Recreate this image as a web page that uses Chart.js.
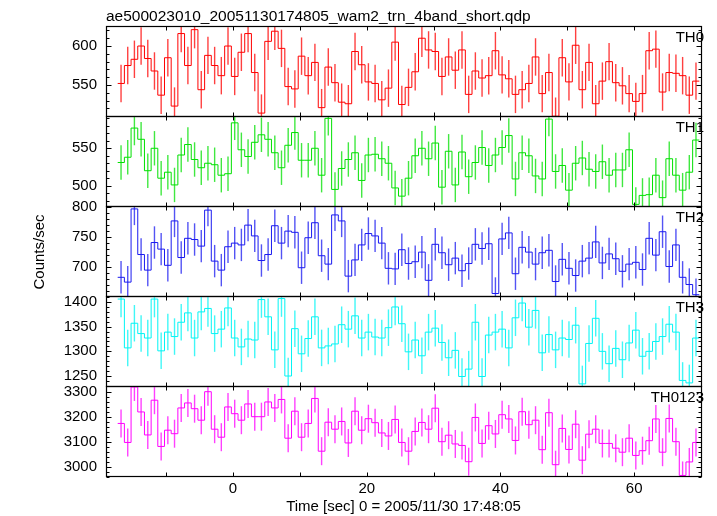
<!DOCTYPE html>
<html>
<head>
<meta charset="utf-8">
<title>ae500023010 wam2 trn 4band light curve</title>
<script src="https://cdn.jsdelivr.net/npm/chart.js@4.4.1/dist/chart.umd.min.js"></script>
<style>
  html, body { margin: 0; padding: 0; background: #fff; }
  #wrap { position: relative; width: 717px; height: 516px; }
  #wrap canvas { position: absolute; left: 0; top: 0; }
</style>
</head>
<body>
<div id="wrap">
  <canvas id="c0" width="717" height="516"></canvas>
  <canvas id="c1" width="717" height="516"></canvas>
  <canvas id="c2" width="717" height="516"></canvas>
  <canvas id="c3" width="717" height="516"></canvas>
  <canvas id="c4" width="717" height="516"></canvas>
</div>
<script>
// light curves, counts/sec, 1 s bins
const th0 = [552, 575, 583, 600, 584, 568, 537, 585, 523, 616, 575, 621, 544, 588, 575, 562, 600, 561, 592, 616,
             566, 514, 606, 619, 597, 548, 545, 587, 562, 579, 521, 573, 553, 528, 526, 593, 576, 554, 552, 531,
             546, 605, 525, 547, 567, 610, 595, 593, 561, 586, 569, 595, 538, 568, 559, 562, 594, 563, 558, 538,
             544, 552, 586, 539, 566, 510, 585, 554, 601, 544, 579, 526, 555, 580, 553, 549, 539, 529, 539, 594,
             596, 541, 566, 565, 562, 537, 555];
const th1 = [531, 538, 577, 562, 520, 550, 510, 518, 501, 541, 555, 535, 524, 530, 528, 514, 516, 584, 548, 539,
             558, 568, 562, 544, 524, 554, 571, 534, 534, 550, 514, 590, 495, 523, 535, 544, 507, 541, 542, 536,
             530, 497, 486, 510, 540, 550, 536, 557, 498, 546, 501, 545, 512, 531, 551, 527, 541, 551, 567, 509,
             544, 540, 513, 509, 589, 519, 527, 494, 530, 537, 522, 519, 532, 514, 521, 521, 548, 475, 487, 488,
             514, 484, 536, 514, 494, 518, 561];
const th2 = [683, 675, 797, 721, 695, 741, 730, 703, 777, 716, 748, 746, 735, 795, 710, 695, 734, 740, 737, 770,
             752, 711, 721, 769, 740, 760, 758, 699, 749, 774, 719, 705, 787, 777, 685, 712, 737, 756, 752, 740,
             698, 697, 729, 706, 709, 725, 678, 738, 724, 704, 715, 694, 706, 738, 731, 739, 656, 747, 757, 689,
             733, 725, 705, 724, 728, 676, 713, 698, 686, 710, 715, 742, 707, 722, 714, 693, 705, 708, 696, 748,
             720, 759, 701, 737, 683, 671, 654];
const th3 = [1406, 1307, 1357, 1336, 1327, 1406, 1301, 1339, 1330, 1359, 1378, 1327, 1380, 1387, 1336, 1345, 1388, 1327, 1309, 1325,
             1323, 1405, 1370, 1303, 1407, 1250, 1346, 1295, 1326, 1370, 1307, 1311, 1315, 1354, 1345, 1372, 1327, 1339, 1329, 1327,
             1348, 1390, 1356, 1299, 1323, 1291, 1339, 1347, 1318, 1287, 1302, 1249, 1264, 1359, 1249, 1333, 1339, 1345, 1307, 1368,
             1398, 1349, 1383, 1297, 1334, 1303, 1327, 1324, 1353, 1234, 1316, 1367, 1300, 1275, 1306, 1283, 1317, 1343, 1290, 1300,
             1320, 1330, 1355, 1339, 1241, 1236, 1327];
const th0123 = [3173, 3097, 3319, 3219, 3127, 3266, 3081, 3146, 3132, 3235, 3255, 3232, 3186, 3300, 3150, 3118, 3239, 3212, 3186, 3251,
                3200, 3200, 3259, 3235, 3269, 3114, 3222, 3118, 3173, 3273, 3062, 3178, 3150, 3181, 3095, 3222, 3146, 3192, 3176, 3135,
                3123, 3189, 3097, 3062, 3141, 3177, 3150, 3234, 3100, 3126, 3091, 3085, 3020, 3197, 3093, 3164, 3131, 3208, 3191, 3105,
                3220, 3168, 3186, 3068, 3216, 3008, 3153, 3069, 3170, 3026, 3130, 3150, 3093, 3093, 3074, 3058, 3114, 3045, 3064, 3104,
                3191, 3058, 3193, 3100, 2965, 3019, 3097];

const panelNames = ['TH0', 'TH1', 'TH2', 'TH3', 'TH0123'];
const panelValues = [th0, th1, th2, th3, th0123];
const panelErrors = [24, 23, 27, 37, 56];          // +/- 1 sigma per bin
const panelColors = ['#ff0000', '#00e000', '#1a1af0', '#00f4f4', '#ff00ff'];
const yMin = [509, 471.5, 650.2, 1227.7, 2958.8];
const yMax = [624.4, 591.8, 800.2, 1410.2, 3318.8];
const yStep = [50, 50, 50, 50, 100];
const binStart = -17.25;   // left edge of first bin [sec]
const binWidth = 1;
const xMin = -19, xMax = 70;
const plotTitle = 'ae500023010_20051130174805_wam2_trn_4band_short.qdp';
const xTitle = 'Time [sec] 0 = 2005/11/30 17:48:05';

const FONT = '"Liberation Sans", Arial, Helvetica, sans-serif';
Chart.defaults.font.family = FONT;
Chart.defaults.font.size = 15;
Chart.defaults.color = '#000';

// labelled ticks only on round multiples of the step
function roundTicks(step) {
    return function (s) {
        const out = [];
        for (let v = Math.ceil(s.min / step) * step; v <= s.max; v += step) out.push({ value: v });
        s.ticks = out;
    };
}

// error bars, frame, inward ticks and panel label, qdp style
const qdpPanel = {
    id: 'qdpPanel',
    afterDatasetsDraw(chart) {
        const i = chart.options.plugins.qdpPanel.panel;
        const { ctx, chartArea: a, scales: { x, y } } = chart;
        const vals = panelValues[i], err = panelErrors[i];

        ctx.save();
        ctx.beginPath();
        ctx.rect(a.left, a.top, a.right - a.left, a.bottom - a.top);
        ctx.clip();
        ctx.strokeStyle = panelColors[i];
        ctx.globalAlpha = 0.75;
        ctx.lineWidth = 1.4;
        vals.forEach((v, k) => {
            const px = x.getPixelForValue(binStart + (k + 0.5) * binWidth);
            ctx.beginPath();
            ctx.moveTo(px, y.getPixelForValue(v - err));
            ctx.lineTo(px, y.getPixelForValue(v + err));
            ctx.stroke();
        });
        ctx.restore();

        ctx.save();
        ctx.strokeStyle = '#000';
        ctx.lineWidth = 1.2;
        const L = a.left + 0.5, R = a.right + 0.5, T = a.top - 0.5, B = a.bottom - 0.5;
        ctx.strokeRect(L, T, R - L, B - T);

        ctx.lineWidth = 1;
        ctx.beginPath();
        for (let t = Math.ceil(xMin / 10) * 10; t < xMax; t += 10) {
            const px = Math.round(x.getPixelForValue(t)) + 0.5;
            ctx.moveTo(px, T); ctx.lineTo(px, T + 4);
            ctx.moveTo(px, B); ctx.lineTo(px, B - 4);
        }
        const minor = yStep[i] / 5;
        for (let v = Math.ceil(yMin[i] / minor) * minor; v <= yMax[i]; v += minor) {
            const py = Math.round(y.getPixelForValue(v)) + 0.5;
            const len = (Math.round(v) % yStep[i] === 0) ? 5 : 3;
            ctx.moveTo(L, py); ctx.lineTo(L + len, py);
            ctx.moveTo(R, py); ctx.lineTo(R - len, py);
        }
        ctx.stroke();

        ctx.fillStyle = '#000';
        ctx.font = '15px ' + FONT;
        ctx.textAlign = 'right';
        ctx.textBaseline = 'alphabetic';
        ctx.fillText(panelNames[i], a.right + 3, a.top + 15);
        if (i === 0) {
            ctx.textAlign = 'left';
            ctx.font = '15.5px ' + FONT;
            ctx.fillText(plotTitle, a.left, a.top - 6);
        }
        ctx.restore();
    }
};

function makePanel(i) {
    const vals = panelValues[i];
    const pts = vals.map((v, k) => ({ x: binStart + k * binWidth, y: v }));
    pts.push({ x: binStart + vals.length * binWidth, y: vals[vals.length - 1] });
    const top = 27 + 90 * i;
    const last = i === panelNames.length - 1;

    return new Chart(document.getElementById('c' + i), {
        type: 'line',
        data: {
            datasets: [{
                label: panelNames[i],
                data: pts,
                stepped: 'before',
                borderColor: panelColors[i],
                borderWidth: 1,
                pointRadius: 0,
                fill: false
            }]
        },
        options: {
            responsive: false,
            animation: false,
            devicePixelRatio: 1,
            layout: { padding: { left: 0, right: 16, top: top, bottom: last ? 0 : 516 - (top + 90) } },
            plugins: {
                legend: { display: false },
                tooltip: { enabled: false },
                qdpPanel: { panel: i }
            },
            scales: {
                x: {
                    type: 'linear',
                    min: xMin,
                    max: xMax,
                    display: last,
                    afterBuildTicks: roundTicks(20),
                    afterFit(s) { if (last) s.height = 39; },
                    grid: { display: false, drawTicks: false },
                    border: { display: false },
                    ticks: { autoSkip: false, maxRotation: 0, padding: 3, callback: v => String(v) },
                    title: { display: true, text: xTitle, padding: { top: 0, bottom: 0 } }
                },
                y: {
                    type: 'linear',
                    min: yMin[i],
                    max: yMax[i],
                    afterBuildTicks: roundTicks(yStep[i]),
                    afterFit(s) { s.width = 106; },
                    grid: { display: false, drawTicks: false },
                    border: { display: false },
                    ticks: { autoSkip: false, padding: 9, callback: v => String(v) },
                    title: { display: i === 2, text: 'Counts/sec', padding: { top: 31, bottom: 0 } }
                }
            }
        },
        plugins: [qdpPanel]
    });
}

panelNames.forEach((name, i) => makePanel(i));
</script>
</body>
</html>
